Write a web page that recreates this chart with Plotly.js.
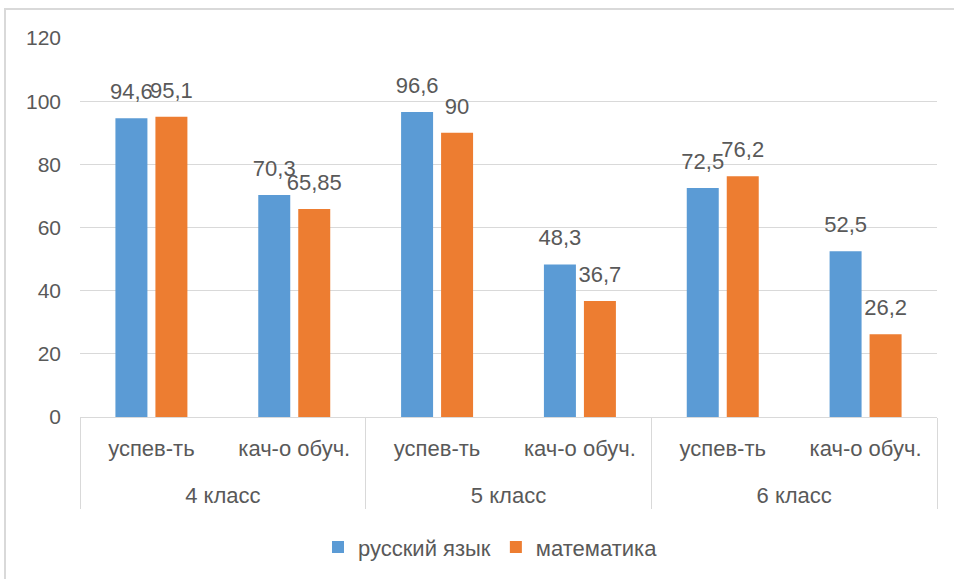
<!DOCTYPE html>
<html>
<head>
<meta charset="utf-8">
<script src="https://cdn.plot.ly/plotly-3.0.1.min.js"></script>
<style>html,body{margin:0;padding:0;background:#fff;}#chart{width:954px;height:579px;}</style>
</head>
<body>
<div id="chart"></div>
<script>
var grades = ["4 класс", "4 класс", "5 класс", "5 класс", "6 класс", "6 класс"];
var metrics = ["успев-ть", "кач-о обуч.", "успев-ть", "кач-о обуч.", "успев-ть", "кач-о обуч."];
var russian = [94.6, 70.3, 96.6, 48.3, 72.5, 52.5];
var math = [95.1, 65.85, 90, 36.7, 76.2, 26.2];
var seriesNames = ["русский язык", "математика"];
var yTicks = [0, 20, 40, 60, 80, 100, 120];

var FONT = "Liberation Sans, Arial, sans-serif";
var GREY = "#595959";
var COLORS = ['#5B9BD5', '#ED7D31'];
function fmt(v){ return String(v).replace('.', ','); }

// primary-level labels get an empty second line so the group row sits lower (Excel spacing)
var metricLabels = metrics.map(function(m){ return m + "<br><span style='font-size:40px'>&nbsp;</span>"; });
var xCats = [grades, metricLabels];

function barTrace(vals, name, color){
  return {
    type: 'bar', x: xCats, y: vals, name: name,
    marker: {color: color}, hoverinfo: 'skip'
  };
}
function labelTrace(vals, name){
  return {
    type: 'scatter', mode: 'markers+text', x: xCats, y: vals, name: name,
    text: vals.map(fmt), textposition: 'top center',
    textfont: {family: FONT, size: 22, color: GREY},
    marker: {size: 20, opacity: 0},
    cliponaxis: false, showlegend: false, hoverinfo: 'skip'
  };
}

var data = [
  barTrace(russian, seriesNames[0], COLORS[0]),
  barTrace(math, seriesNames[1], COLORS[1]),
  labelTrace(russian, seriesNames[0]),
  labelTrace(math, seriesNames[1])
];

var layout = {
  width: 954, height: 579,
  margin: {l: 80, r: 17, t: 38, b: 161},
  paper_bgcolor: '#fff', plot_bgcolor: '#fff',
  font: {family: FONT, size: 22, color: GREY},
  barmode: 'group', bargap: 0.44, bargroupgap: 0.2,
  scattermode: 'group', scattergap: 0.44,
  showlegend: true,
  legend: {orientation: 'h', x: 0.479, xanchor: 'center', y: -0.34, yanchor: 'middle',
           font: {family: FONT, size: 22, color: GREY}, itemwidth: 30, traceorder: 'normal'},
  xaxis: {
    type: 'multicategory',
    showline: true, linecolor: '#D9D9D9', linewidth: 1,
    showdividers: true, dividercolor: '#D9D9D9', dividerwidth: 1,
    ticks: '', ticklabelstandoff: 12,
    tickfont: {family: FONT, size: 22, color: GREY},
    showgrid: false
  },
  yaxis: {
    range: [0, 120], tickvals: yTicks, ticktext: yTicks.map(String),
    showgrid: true, gridcolor: '#D9D9D9', gridwidth: 1,
    zeroline: false, showline: false, ticks: '',
    ticklabelstandoff: 18,
    tickfont: {family: FONT, size: 21, color: GREY}
  },
  shapes: [{
    type: 'rect', xref: 'paper', yref: 'paper',
    x0: -0.0875, x1: 1.1, y0: -0.6, y1: 1.0763,
    line: {color: '#D9D9D9', width: 2}, fillcolor: 'rgba(0,0,0,0)', layer: 'below'
  }]
};

Plotly.newPlot('chart', data, layout, {displayModeBar: false, staticPlot: true});
</script>
</body>
</html>
